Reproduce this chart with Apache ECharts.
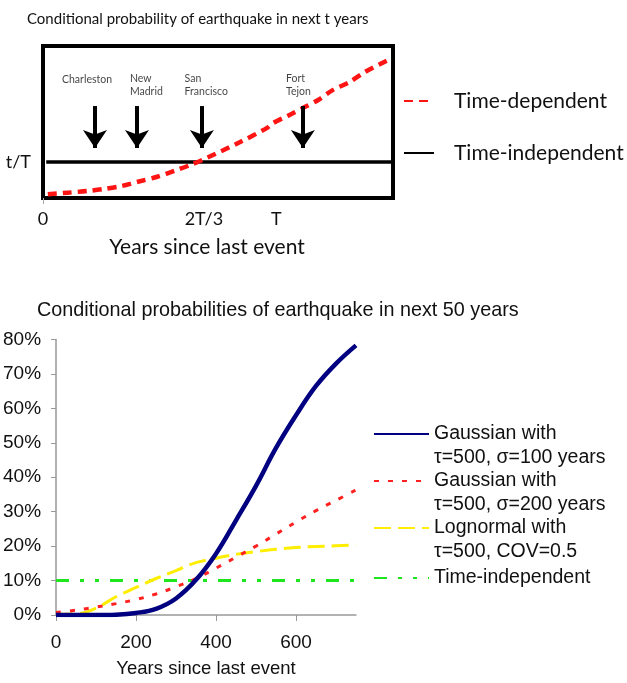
<!DOCTYPE html>
<html>
<head>
<meta charset="utf-8">
<script src="https://cdn.jsdelivr.net/npm/echarts@6/dist/echarts.min.js"></script>
<style>
  html, body { margin: 0; padding: 0; background: #fff; }
  #chart { width: 627px; height: 683px; }
</style>
</head>
<body>
<div id="chart"></div>
<script>
// ---------- Upper panel: schematic, time-dependent vs time-independent ----------
// Horizontal scale in schematic units (2T/3 sits at 200)
const sketchTickValues = [0, 200, 290];
const sketchTickLabels = ['0', '2T/3', 'T'];
const sketchLevel = 23.7;            // height of the t/T level
const sketchLevelLabel = 't/T';

const timeDepX = [6, 31, 55, 75, 98, 118, 142, 164, 183, 204, 245, 278, 286, 304, 323, 342, 360, 381, 400, 419, 434];
const timeDepY = [2.4, 3.5, 4.6, 5.9, 7.9, 10.7, 14.0, 18.0, 21.7, 26.5, 36.8, 46.0, 49.3, 54.0, 59.2, 64.5, 71.0, 76.3, 82.9, 88.2, 92.1];

const siteNames = ['Charleston', 'New\nMadrid', 'San\nFrancisco', 'Fort\nTejon'];
const siteLabelX = [23.6, 108, 176, 302];
const siteLabelY = [77.6, 74.3, 74.3, 74.3];
const siteArrowX = [64.6, 116.8, 197.5, 323];
const arrowTop = 60.5;
const arrowTip = 32.9;

// ---------- Lower panel: conditional probabilities in next 50 years ----------
const years = [0, 50, 100, 150, 200, 250, 300, 350, 400, 450, 500, 550, 600, 650, 700, 750];
const gauss100 = [0, 0, 0, 0.1, 0.6, 1.8, 4.8, 10.2, 17.8, 27.5, 37.5, 48.5, 58, 66.5, 73, 78.3];
const gauss200 = [0.7, 1.4, 2.3, 3.3, 4.5, 6.1, 8.2, 10.6, 13.6, 16.8, 20, 23.5, 27, 30.3, 33.3, 36.3];
const lognormal = [0.2, 0.3, 2.0, 5.3, 8.0, 10.6, 12.9, 15.2, 16.5, 17.6, 18.4, 19.1, 19.6, 19.9, 20.1, 20.3];
const timeIndepProb = 10;
const yearTicks = [0, 200, 400, 600];

const seriesNames = [
  'Gaussian with\nτ=500, σ=100 years',
  'Gaussian with\nτ=500, σ=200 years',
  'Lognormal with\nτ=500, COV=0.5',
  'Time-independent '
];

const zip = (xs, ys) => xs.map((x, i) => [x, ys[i]]);

const humanist = 'Lato, "Open Sans", sans-serif';
const arial = '"Liberation Sans", Arial, sans-serif';

const chart = echarts.init(document.getElementById('chart'), null, { renderer: 'canvas' });

// legend symbol hidden: only the line sample is shown
const hiddenSymbol = { color: 'transparent', borderColor: 'transparent', borderWidth: 0, opacity: 0 };

// Two-line entries get a leading blank line so the sample line sits beside the first line
function bottomLegend(name, iconY, twoLines) {
  const lh = 24;
  const blockH = twoLines ? lh * 3 : lh;
  return {
    data: [name],
    left: 373,
    top: iconY - blockH / 2,
    orient: 'vertical',
    padding: 0,
    itemWidth: 55,
    itemHeight: 14,
    selectedMode: false,
    itemStyle: hiddenSymbol,
    formatter: n => (twoLines ? '\n' + n : n),
    textStyle: { fontFamily: arial, fontSize: 19.5, color: '#111', lineHeight: lh }
  };
}

function topLegend(name, iconY) {
  return {
    data: [name],
    left: 403,
    top: iconY - 12,
    orient: 'vertical',
    padding: 0,
    itemWidth: 30,
    itemHeight: 14,
    selectedMode: false,
    itemStyle: hiddenSymbol,
    textStyle: { fontFamily: humanist, fontSize: 21, color: '#111', lineHeight: 24, padding: [0, 0, 0, 15] }
  };
}

const option = {
  backgroundColor: '#fff',
  animation: false,
  title: [
    {
      text: 'Conditional probability of earthquake in next t years',
      left: 22, top: 7,
      textStyle: { fontFamily: humanist, fontSize: 15, fontWeight: 'normal', color: '#111' }
    },
    {
      text: 'Conditional probabilities of earthquake in next 50 years',
      left: 32, top: 296,
      textStyle: { fontFamily: arial, fontSize: 19.8, fontWeight: 'normal', color: '#111' }
    }
  ],
  legend: [
    topLegend('Time-dependent', 101),
    topLegend('Time-independent', 153),
    bottomLegend(seriesNames[0], 434, true),
    bottomLegend(seriesNames[1], 481, true),
    bottomLegend(seriesNames[2], 528, true),
    bottomLegend(seriesNames[3], 578, false)
  ],
  grid: [
    { left: 43, top: 46, width: 350, height: 152, show: true, borderColor: '#000', borderWidth: 4, backgroundColor: 'transparent' },
    { left: 56, top: 339.5, width: 300, height: 275.5 }
  ],
  xAxis: [
    {
      gridIndex: 0, type: 'value', min: 0, max: 435,
      axisLine: { show: false },
      axisTick: { show: true, customValues: [0], length: 6, lineStyle: { color: '#aaa' } },
      splitLine: { show: false },
      axisLabel: {
        customValues: sketchTickValues,
        formatter: v => sketchTickLabels[sketchTickValues.indexOf(v)] || '',
        fontFamily: humanist, fontSize: 18, color: '#111', margin: 12
      },
      name: 'Years since last event', nameLocation: 'middle', nameGap: 39,
      nameTextStyle: { fontFamily: humanist, fontSize: 21, color: '#111', padding: [0, 22, 0, 0] }
    },
    {
      gridIndex: 1, type: 'value', min: 0, max: 750,
      axisLine: { show: true, lineStyle: { color: '#999', width: 1.5 } },
      axisTick: { show: true, customValues: yearTicks, length: 6, lineStyle: { color: '#999' } },
      splitLine: { show: false },
      axisLabel: { customValues: yearTicks, fontFamily: arial, fontSize: 19, color: '#111', margin: 18 },
      name: 'Years since last event', nameLocation: 'middle', nameGap: 44,
      nameTextStyle: { fontFamily: arial, fontSize: 18.5, color: '#111' }
    }
  ],
  yAxis: [
    {
      gridIndex: 0, type: 'value', min: 0, max: 100,
      axisLine: { show: false }, axisTick: { show: false }, splitLine: { show: false },
      axisLabel: {
        customValues: [sketchLevel],
        formatter: () => sketchLevelLabel,
        fontFamily: humanist, fontSize: 18, color: '#111', margin: 12
      }
    },
    {
      gridIndex: 1, type: 'value', min: 0, max: 80, interval: 10,
      axisLine: { show: true, lineStyle: { color: '#999', width: 1.5 } },
      axisTick: { show: true, length: 5, lineStyle: { color: '#999' } },
      splitLine: { show: false },
      axisLabel: { formatter: '{value}%', fontFamily: arial, fontSize: 19, color: '#111', margin: 15 }
    }
  ],
  series: [
    {
      name: 'Time-independent', type: 'line', xAxisIndex: 0, yAxisIndex: 0,
      data: [[4, sketchLevel], [435, sketchLevel]],
      symbol: 'none', color: '#000', lineStyle: { color: '#000', width: 3.5 }, z: 3
    },
    {
      name: 'Time-dependent', type: 'line', xAxisIndex: 0, yAxisIndex: 0,
      data: zip(timeDepX, timeDepY), smooth: 0.3,
      symbol: 'none', color: '#ff1414', lineStyle: { color: '#ff1414', width: 4.5, type: [9, 6] }, z: 4
    },
    {
      name: 'sites', type: 'scatter', xAxisIndex: 0, yAxisIndex: 0,
      data: siteNames.map((n, i) => ({ name: n, value: [siteLabelX[i], siteLabelY[i]] })),
      symbolSize: 0,
      label: {
        show: true, position: 'right', distance: 0, formatter: p => p.name,
        fontFamily: humanist, fontSize: 10.5, lineHeight: 13.5, color: '#111', align: 'left'
      },
      markLine: {
        silent: true,
        symbol: ['none', 'arrow'],
        symbolSize: [18, 18],
        label: { show: false },
        lineStyle: { color: '#000', width: 4, type: 'solid' },
        data: siteArrowX.map(x => [{ coord: [x, arrowTop] }, { coord: [x, arrowTip] }])
      }
    },
    {
      name: seriesNames[3], type: 'line', xAxisIndex: 1, yAxisIndex: 1,
      data: [[0, timeIndepProb], [750, timeIndepProb]],
      symbol: 'none', color: '#1ee61e', lineStyle: { color: '#1ee61e', width: 3, type: [13, 11, 4, 11, 4, 11] }
    },
    {
      name: seriesNames[2], type: 'line', xAxisIndex: 1, yAxisIndex: 1,
      data: zip(years, lognormal), smooth: 0.4,
      symbol: 'none', color: '#ffee00', lineStyle: { color: '#ffee00', width: 3, type: [17, 7] }
    },
    {
      name: seriesNames[1], type: 'line', xAxisIndex: 1, yAxisIndex: 1,
      data: zip(years, gauss200), smooth: 0.4,
      symbol: 'none', color: '#ff2020', lineStyle: { color: '#ff2020', width: 3, type: [5, 9] }
    },
    {
      name: seriesNames[0], type: 'line', xAxisIndex: 1, yAxisIndex: 1,
      data: zip(years, gauss100), smooth: 0.4,
      symbol: 'none', color: '#000080', lineStyle: { color: '#000080', width: 4.5 }
    }
  ]
};

chart.setOption(option);
</script>
</body>
</html>
